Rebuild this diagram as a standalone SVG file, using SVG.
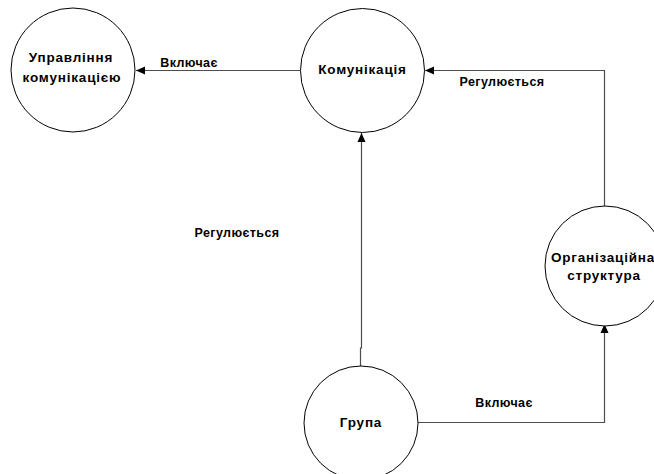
<svg xmlns="http://www.w3.org/2000/svg" width="654" height="474" viewBox="0 0 654 474">
  <style>
    .node { fill: #ffffff; stroke: #000000; stroke-width: 1; }
    .edge { fill: none; stroke: #4d4d4d; stroke-width: 1.2; }
    text { font-family: "Liberation Sans", Arial, sans-serif; fill: #000000; text-anchor: middle; font-weight: bold; }
    .label { font-size: 13.5px; letter-spacing: 0.8px; }
    .edge-label { font-size: 12.5px; letter-spacing: 0.4px; }
  </style>
  <defs>
    <marker id="arrow" markerWidth="10" markerHeight="10" refX="9" refY="5" orient="auto" markerUnits="userSpaceOnUse">
      <path d="M0,1 L9,5 L0,9 Z" fill="#000000"/>
    </marker>
  </defs>
  <rect width="654" height="474" fill="#ffffff"/>

  <g id="edges">
    <path class="edge" d="M300,70.5 L136,70.5" marker-end="url(#arrow)"/>
    <path class="edge" d="M604.5,206 L604.5,70.5 L425,70.5" marker-end="url(#arrow)"/>
    <path class="edge" d="M360.5,366 L360.5,348 L361.5,348 L361.5,133" marker-end="url(#arrow)"/>
    <path class="edge" d="M418,422.5 L604.5,422.5 L604.5,324" marker-end="url(#arrow)"/>
    <text class="edge-label" x="189" y="67">Включає</text>
    <text class="edge-label" x="502" y="86">Регулюється</text>
    <text class="edge-label" x="237" y="237">Регулюється</text>
    <text class="edge-label" x="504" y="407">Включає</text>
  </g>

  <g id="node-management">
    <circle class="node" cx="73" cy="70" r="62"/>
    <text class="label" x="71" y="62">Управління</text>
    <text class="label" x="72" y="82">комунікацією</text>
  </g>

  <g id="node-communication">
    <circle class="node" cx="362.5" cy="70.5" r="62"/>
    <text class="label" x="362.5" y="74">Комунікація</text>
  </g>

  <g id="node-structure">
    <circle class="node" cx="605" cy="266" r="60"/>
    <text class="label" x="603" y="262">Організаційна</text>
    <text class="label" x="604" y="280">структура</text>
  </g>

  <g id="node-group">
    <circle class="node" cx="361" cy="423" r="57"/>
    <text class="label" x="361" y="427">Група</text>
  </g>
</svg>
